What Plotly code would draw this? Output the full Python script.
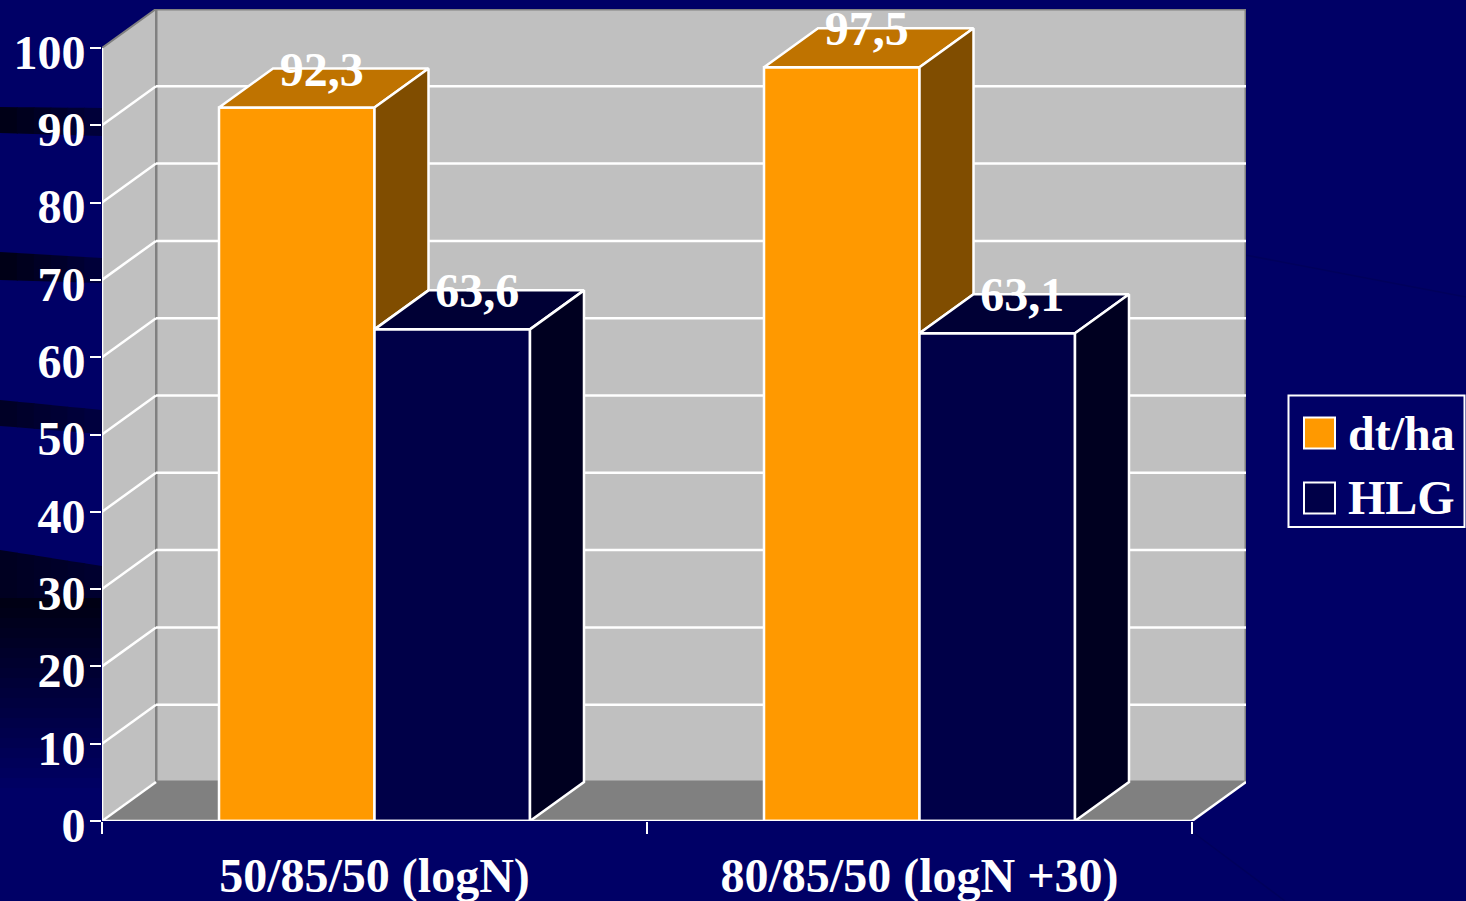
import plotly.graph_objects as go

categories = ["50/85/50 (logN)", "80/85/50 (logN +30)"]
series_names = ["dt/ha", "HLG"]
dt_ha = [92.3, 97.5]
hlg = [63.6, 63.1]
y_ticks = list(range(0, 101, 10))

FONT = "Liberation Serif"
SIZE = 48
WHITE = "#ffffff"
GREY = "#808080"
WALL = "#c0c0c0"
BG = "#000066"
COL_A = ("#ff9900", "#bf7300", "#804d00")
COL_B = ("#000048", "#000035", "#000020")
LW = 2.5

x_pos = [0.5, 1.5]
bar_w = 0.2853
dx = 54 / 545
dy = 39 / 7.73
x_max = 2 + dx
y_max = 100 + dy
x_cat_edges = [0, 1, 2]
L, R, T, B = 102, 1246, 9, 821
W, H = 1466, 901


def px(x):
    return (x - L) / (R - L)


def py(y):
    return (B - y) / (B - T)


def poly(xs, ys, fill, line=WHITE, width=LW):
    return go.Scatter(x=xs + xs[:1], y=ys + ys[:1], mode="lines", fill="toself",
                      fillcolor=fill, line=dict(color=line, width=width),
                      hoverinfo="skip", showlegend=False)


def path(pts):
    return "M " + " L ".join(f"{a},{b}" for a, b in pts) + " Z"


def seg(x0, y0, x1, y1, color=WHITE, width=LW, layer="below"):
    return dict(type="line", xref="x", yref="y", x0=x0, y0=y0, x1=x1, y1=y1,
                line=dict(color=color, width=width), layer=layer)


def mix(c0, c1, t):
    return "#0000%02x" % round(c0 + (c1 - c0) * t)


shapes = []

# background artwork: dark streaks at the left edge
def band(top0, top1, bot0, bot1, c0, c1, n=6, x_end=101):
    for k in range(n):
        a, b = k / n, (k + 1) / n
        pts = [(0 + a * x_end, top0 + (top1 - top0) * a), (b * x_end + 1, top0 + (top1 - top0) * b),
               (b * x_end + 1, bot0 + (bot1 - bot0) * b), (a * x_end, bot0 + (bot1 - bot0) * a)]
        shapes.append(dict(type="path", xref="paper", yref="paper", layer="below",
                           fillcolor=mix(c0, c1, (a + b) / 2), line=dict(width=0),
                           path=path([(px(p), py(q)) for p, q in pts])))


band(107, 108, 133, 136, 0x14, 0x3c)
band(252, 258, 280, 283, 0x14, 0x3c)
band(400, 410, 426, 434, 0x24, 0x40)
band(550, 566, 600, 600, 0x20, 0x30)
for j in range(20):
    y0 = 598 + j * 10
    shapes.append(dict(type="rect", xref="paper", yref="paper", layer="below",
                       x0=px(0), x1=px(101), y0=py(y0 + 11), y1=py(y0),
                       fillcolor=mix(0x14, 0x66, j / 19), line=dict(width=0)))
for (a, b, c, d) in ((1245, 255, 1466, 297), (1190, 830, 1285, 901)):
    shapes.append(dict(type="line", xref="paper", yref="paper", layer="below",
                       x0=px(a), y0=py(b), x1=px(c), y1=py(d), line=dict(color="#00005c", width=1.5)))

# walls and floor
shapes.append(dict(type="path", xref="x", yref="y", layer="below", fillcolor=WALL,
                   line=dict(color=GREY, width=3),
                   path=path([(dx, dy), (x_max, dy), (x_max, y_max), (dx, y_max)])))
shapes.append(dict(type="path", xref="x", yref="y", layer="below", fillcolor=WALL,
                   line=dict(color=GREY, width=2),
                   path=path([(0, 0), (dx, dy), (dx, y_max), (0, 100)])))
shapes.append(dict(type="path", xref="x", yref="y", layer="below", fillcolor=GREY,
                   line=dict(color=GREY, width=1),
                   path=path([(0, 0), (2, 0), (x_max, dy), (dx, dy)])))
for t in y_ticks[1:-1]:
    shapes.append(seg(0, t, dx, t + dy))
    shapes.append(seg(dx, t + dy, x_max, t + dy))
shapes.append(seg(0, 0, dx, dy))
shapes.append(seg(2, 0, x_max, dy))
shapes.append(seg(0, 0, 0, 100, layer="above"))
shapes.append(seg(0, 0, 2, 0, layer="above"))

fig = go.Figure()
fig.add_trace(go.Bar(x=x_pos, y=dt_ha, name=series_names[0],
                     marker=dict(color=COL_A[0], line=dict(color=WHITE, width=LW)),
                     showlegend=False, hoverinfo="skip"))
fig.add_trace(go.Bar(x=x_pos, y=hlg, name=series_names[1],
                     marker=dict(color=COL_B[0], line=dict(color=WHITE, width=LW)),
                     showlegend=False, hoverinfo="skip"))

# 3-D faces derived from the values
for i, xc in enumerate(x_pos):
    a, b = dt_ha[i], hlg[i]
    l, m, r = xc - bar_w, xc, xc + bar_w
    fig.add_trace(poly([l, m, m + dx, l + dx], [a, a, a + dy, a + dy], COL_A[1]))
    fig.add_trace(poly([m, m + dx, m + dx, m], [a, a + dy, b + dy, b], COL_A[2]))
    fig.add_trace(poly([m, r, r + dx, m + dx], [b, b, b + dy, b + dy], COL_B[1]))
    fig.add_trace(poly([r, r + dx, r + dx, r], [b, b + dy, dy, 0], COL_B[2]))

# value labels
lab_x, lab_y, lab_t = [], [], []
for i, xc in enumerate(x_pos):
    for off, v in ((-bar_w / 2, dt_ha[i]), (bar_w / 2, hlg[i])):
        lab_x.append(xc + off + dx / 2 - 2 / 545)
        lab_y.append(v + dy - 5 / 7.73)
        lab_t.append(f"{v}".replace(".", ","))
fig.add_trace(go.Scatter(x=lab_x, y=lab_y, text=lab_t, mode="text", textposition="middle center",
                         cliponaxis=False,
                         textfont=dict(family=FONT, size=SIZE, color=WHITE, weight="bold"),
                         hoverinfo="skip", showlegend=False))

# legend drawn by hand so that the swatches match
shapes.append(dict(type="rect", xref="paper", yref="paper", x0=px(1288.5), x1=px(1464.5), y0=py(527), y1=py(395.5),
                   line=dict(color=WHITE, width=2), fillcolor=BG))
annotations = []
for name, col, yc in ((series_names[0], COL_A[0], 433), (series_names[1], COL_B[0], 498)):
    shapes.append(dict(type="rect", xref="paper", yref="paper", x0=px(1304), x1=px(1335),
                       y0=py(yc + 15.5), y1=py(yc - 15.5),
                       line=dict(color=WHITE, width=2), fillcolor=col))
    annotations.append(dict(xref="paper", yref="paper", x=px(1348), y=py(yc), text=f"<b>{name}</b>", showarrow=False,
                            xanchor="left", yanchor="middle", xshift=-2, font=dict(family=FONT, size=SIZE, color=WHITE)))

fig.update_layout(
    width=W, height=H, margin=dict(l=L, r=W - R, t=T, b=H - B, autoexpand=False),
    paper_bgcolor=BG, plot_bgcolor="rgba(0,0,0,0)", showlegend=False,
    barmode="group", bargap=1 - 2 * bar_w, bargroupgap=0,
    shapes=shapes, annotations=annotations,
    xaxis=dict(range=[0, x_max], tickvals=x_pos, ticktext=categories, ticks="", showgrid=False, zeroline=False,
               showline=False, ticklabelstandoff=22,
               tickfont=dict(family=FONT, size=SIZE, color=WHITE, weight="bold"),
               minor=dict(tickvals=x_cat_edges, ticks="outside", ticklen=12, tickwidth=2, tickcolor=WHITE, showgrid=False)),
    yaxis=dict(range=[0, y_max], tickvals=y_ticks, ticks="outside", ticklen=11, tickwidth=2, tickcolor=WHITE,
               showgrid=False, zeroline=False, showline=False, ticklabelstandoff=-5, ticklabelshift=4,
               tickfont=dict(family=FONT, size=SIZE, color=WHITE, weight="bold")),
)
fig.write_html("out.html", config=dict(displayModeBar=False),
               post_script="document.body.style.margin='0';document.body.style.overflow='hidden';")
